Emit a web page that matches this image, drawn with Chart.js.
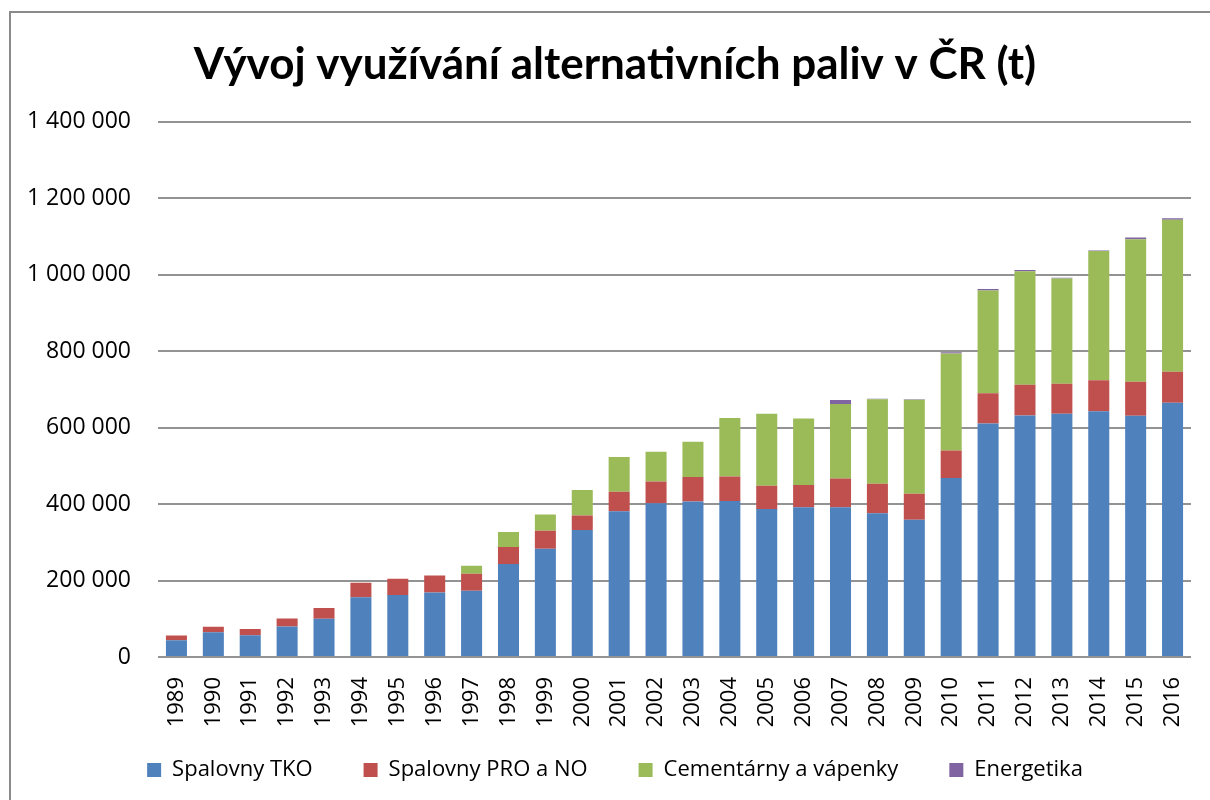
<!DOCTYPE html>
<html>
<head>
<meta charset="utf-8">
<script src="https://cdn.jsdelivr.net/npm/chart.js@4"></script>
<style>
  body { margin: 0; background: #fff; overflow: hidden; }
  #frame { position: absolute; left: 9px; top: 11px; width: 1300px; height: 900px; border: 2px solid #8a8a8a; box-sizing: border-box; }
  #wrap { position: absolute; left: 0; top: 0; width: 1191px; height: 800px; }
</style>
</head>
<body>
<div id="frame"></div>
<div id="wrap"><canvas id="chart"></canvas></div>
<script>
// years on the x axis
const years = ['1989','1990','1991','1992','1993','1994','1995','1996','1997','1998',
  '1999','2000','2001','2002','2003','2004','2005','2006','2007','2008',
  '2009','2010','2011','2012','2013','2014','2015','2016'];

// tonnes per year
const spalovnyTKO = [44000, 65000, 57000, 80000, 100000, 156000, 162000, 169000, 173000, 243000,
  283000, 332000, 381000, 402000, 407000, 408000, 387000, 392000, 392000, 376000,
  359000, 468000, 611000, 632000, 636000, 643000, 631000, 665000];
const spalovnyPRO = [12000, 14000, 16000, 21000, 28000, 38000, 43000, 44000, 45000, 45000,
  47000, 38000, 51000, 57000, 64000, 64000, 61000, 58000, 75000, 77000,
  68000, 72000, 79000, 80000, 79000, 81000, 89000, 81000];
const cementarny = [0, 0, 0, 0, 0, 0, 0, 0, 21000, 39000,
  43000, 67000, 91000, 78000, 92000, 153000, 188000, 174000, 195000, 221000,
  246000, 254000, 269000, 297000, 275000, 338000, 373000, 398000];
const energetika = [0, 0, 0, 0, 0, 0, 0, 0, 0, 0,
  0, 0, 0, 0, 0, 0, 0, 0, 10000, 1500,
  1000, 3000, 3500, 3500, 2000, 1500, 4500, 4000];

const yTicks = [0, 200000, 400000, 600000, 800000, 1000000, 1200000, 1400000];

const TEXT_FONT = 'Open Sans';
const TITLE_FONT = 'Lato';

// 1 400 000 style
function fmt(v) {
  return String(v).replace(/\B(?=(\d{3})+(?!\d))/g, ' ');
}

function ds(label, data, color) {
  return {
    label: label,
    data: data,
    backgroundColor: color,
    borderColor: color,
    borderWidth: 0,
    barPercentage: 0.57,
    categoryPercentage: 1.0
  };
}

// title and legend are centred on the whole frame, not on the plot;
// legend padding is wide for spacing, so its top is pulled up a bit
const centreShift = {
  id: 'centreShift',
  afterLayout(chart) {
    chart.titleBlock.left = 39;
    chart.titleBlock.right = 1191;
    chart.legend.left = 39;
    chart.legend.right = 1191;
    chart.legend.top = 708;
  }
};

const ctx = document.getElementById('chart').getContext('2d');
new Chart(ctx, {
  type: 'bar',
  data: {
    labels: years,
    datasets: [
      ds('Spalovny TKO', spalovnyTKO, '#4F81BD'),
      ds('Spalovny PRO a NO', spalovnyPRO, '#C0504D'),
      ds('Cementárny a vápenky', cementarny, '#9BBB59'),
      ds('Energetika', energetika, '#8064A2')
    ]
  },
  options: {
    responsive: true,
    maintainAspectRatio: false,
    animation: false,
    layout: { padding: { left: 0, right: 0, top: 0, bottom: 8 } },
    plugins: {
      title: {
        display: true,
        text: 'Vývoj využívání alternativních paliv v ČR (t)',
        color: '#000',
        font: { family: TITLE_FONT, size: 44, weight: 'bold' },
        padding: { top: 38, bottom: 31 }
      },
      legend: {
        position: 'bottom',
        maxHeight: 40,
        labels: {
          color: '#000',
          font: { family: TEXT_FONT, size: 22 },
          boxWidth: 14,
          boxHeight: 14,
          padding: 51
        }
      },
      tooltip: { enabled: false }
    },
    scales: {
      x: {
        stacked: true,
        grid: { display: false, drawTicks: true, tickLength: 20 },
        border: { display: false },
        ticks: {
          color: '#000',
          font: { family: TEXT_FONT, size: 22 },
          minRotation: 90,
          maxRotation: 90,
          padding: 0
        },
        afterFit: function (scale) {
          scale.height = 95;
          scale.paddingLeft = 0;
          scale.paddingRight = 0;
        }
      },
      y: {
        stacked: true,
        min: 0,
        max: 1400000,
        afterBuildTicks: function (scale) {
          scale.ticks = yTicks.map(v => ({ value: v }));
        },
        grid: { color: '#939393', lineWidth: 2, drawTicks: false },
        border: { display: false },
        ticks: {
          color: '#000',
          font: { family: TEXT_FONT, size: 23 },
          padding: 27,
          callback: v => fmt(v)
        },
        afterFit: function (scale) { scale.width = 158; }
      }
    }
  },
  plugins: [centreShift]
});
</script>
</body>
</html>
